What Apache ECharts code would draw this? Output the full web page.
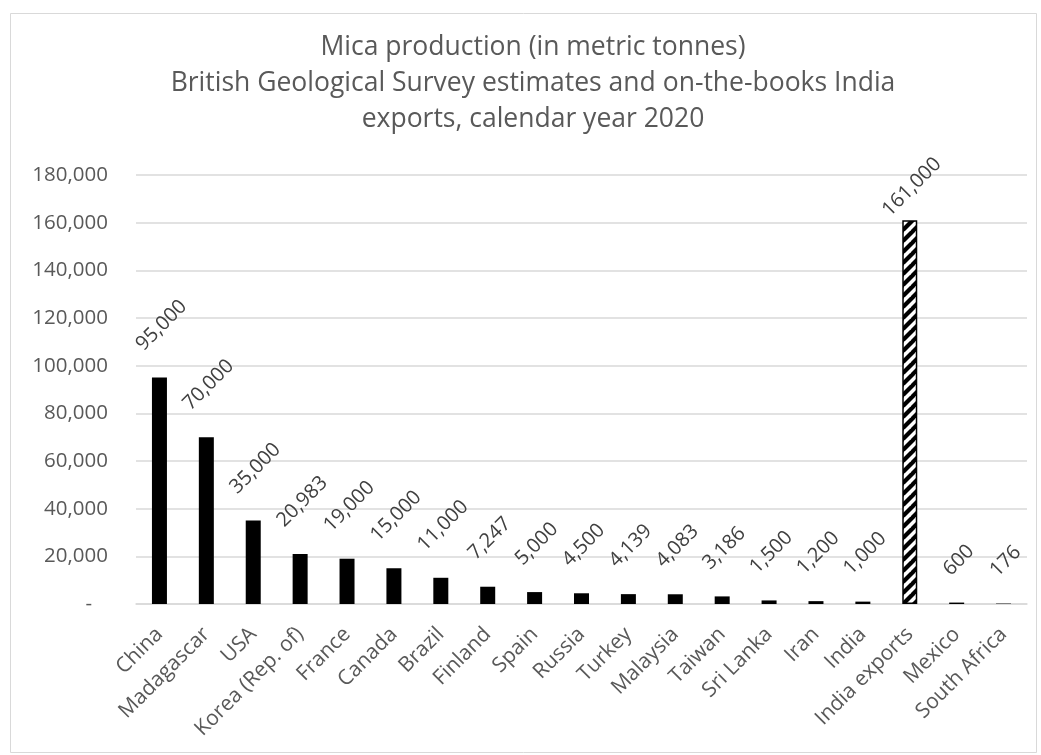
<!DOCTYPE html>
<html>
<head>
<meta charset="utf-8">
<script src="https://cdn.jsdelivr.net/npm/echarts@6/dist/echarts.min.js"></script>
<style>
html,body{margin:0;padding:0;background:#fff;}
#chart{width:1041px;height:755px;}
</style>
</head>
<body>
<div id="chart"></div>
<script>
const categories = ['China','Madagascar','USA','Korea (Rep. of)','France','Canada','Brazil','Finland','Spain','Russia','Turkey','Malaysia','Taiwan','Sri Lanka','Iran','India','India exports','Mexico','South Africa'];
const values = [95000,70000,35000,20983,19000,15000,11000,7247,5000,4500,4139,4083,3186,1500,1200,1000,161000,600,176];
const hatchedCategories = ['India exports'];
const yMin = 0, yMax = 180000, yInterval = 20000;
const titleLines = ['Mica production (in metric tonnes)', 'British Geological Survey estimates and on-the-books India', 'exports, calendar year 2020'];

const FONT = '"Open Sans", "Noto Sans", sans-serif';
const fmt = v => v === 0 ? '-   ' : v.toLocaleString('en-US');

// hatch pattern
function makeHatch() {
  const s = 11;
  const c = document.createElement('canvas');
  c.width = s; c.height = s;
  const g = c.getContext('2d');
  g.fillStyle = '#fff'; g.fillRect(0,0,s,s);
  g.strokeStyle = '#000'; g.lineWidth = 4.2;
  for (const k of [-s, 0, s]) {
    g.beginPath(); g.moveTo(k - 1, s + 1); g.lineTo(k + s + 1, -1); g.stroke();
  }
  return c;
}
const hatch = makeHatch();

const mc = document.createElement('canvas').getContext('2d');
mc.font = '20px "Open Sans"';

const chart = echarts.init(document.getElementById('chart'), null, {renderer:'canvas'});

function buildData(distFn) {
  return values.map((v, i) => {
    const isHatch = hatchedCategories.includes(categories[i]);
    const item = { value: v };
    if (isHatch) {
      item.itemStyle = { color: { image: hatch, repeat: 'repeat' }, borderColor: '#000', borderWidth: 1.5 };
    }
    item.label = { distance: distFn(v, i) };
    return item;
  });
}

const option = {
  animation: false,
  backgroundColor: '#fff',
  graphic: [{
    type: 'rect', left: 8, top: 11, silent: true,
    shape: { width: 1026, height: 739 },
    style: { fill: 'none', stroke: '#d9d9d9', lineWidth: 1 }
  }, {
    type: 'text', x: 533, y: 29, silent: true,
    style: {
      text: titleLines.join('\n'), align: 'center', verticalAlign: 'top',
      fontFamily: FONT, fontSize: 26.5, lineHeight: 36, fill: '#595959'
    }
  }],
  grid: { left: 136, right: 14, top: 175, bottom: 151, outerBoundsMode: 'none', containLabel: false },
  xAxis: {
    type: 'category',
    data: categories,
    axisLine: { lineStyle: { color: '#d9d9d9', width: 1.5 } },
    axisTick: { show: false },
    axisLabel: { rotate: 45, interval: 0, margin: 27, color: '#595959', fontFamily: FONT, fontSize: 21 }
  },
  yAxis: {
    type: 'value',
    min: yMin, max: yMax, interval: yInterval,
    axisLine: { show: false }, axisTick: { show: false },
    splitLine: { lineStyle: { color: '#d9d9d9', width: 1.5 } },
    axisLabel: { margin: 28, color: '#595959', fontFamily: FONT, fontSize: 20.5, formatter: fmt }
  },
  series: [{
    type: 'bar',
    barWidth: 15,
    itemStyle: { color: '#000' },
    label: {
      show: true, position: 'top', rotate: 45, align: 'center', verticalAlign: 'middle',
      offset: [3, 0],
      color: '#404040', fontFamily: FONT, fontSize: 20,
      formatter: p => fmt(p.value)
    },
    data: buildData(() => 50)
  }]
};
chart.setOption(option);

// second pass: label distance depends on text length and stays below the top limit
const topLimit = 156;
const data2 = buildData((v) => {
  const L = mc.measureText(fmt(v)).width;
  const half = (L + 20) * 0.354;
  let d = 28 + 0.354 * L;
  const barTop = chart.convertToPixel({ yAxisIndex: 0 }, v);
  if (barTop - d - half < topLimit) d = barTop - topLimit - half;
  return d;
});
chart.setOption({ series: [{ data: data2 }] });
</script>
</body>
</html>
